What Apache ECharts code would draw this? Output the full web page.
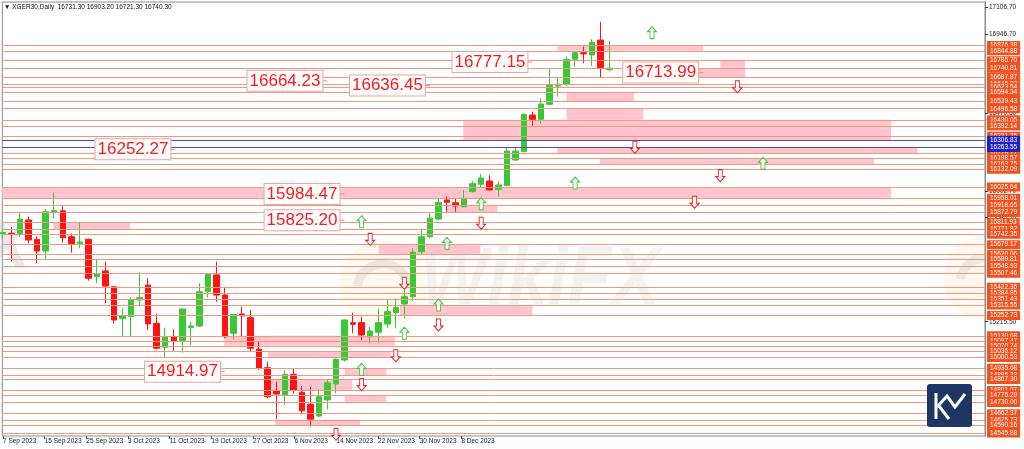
<!DOCTYPE html>
<html><head><meta charset="utf-8">
<script src="https://cdn.jsdelivr.net/npm/echarts@6/dist/echarts.min.js"></script>
<style>html,body{margin:0;padding:0;background:#fff}#c{width:1024px;height:449px}</style>
</head><body><div id="c"></div>
<script>
// ---- data ----
const symbolName = 'XGER30,Daily';
const opens  = [15745,15748,15747,15827,15711,15641,15871,15883,15727,15687,15711,15486,15521,15426,15234,15246,15346,15436,15206,15062,15125,15100,15180,15190,15396,15497,15376,15146,15262,15240,15051,14939,14801,14775,14899,14791,14719,14648,14745,14841,14985,15210,15210,15125,15152,15202,15270,15322,15366,15637,15727,15833,15948,15931,15907,15998,16042,16062,16012,16034,16188,16238,16459,16433,16523,16633,16645,16794,16834,16820,16910,16731.30];
const highs  = [15775,15787,15871,15847,15727,15892,15992,15912,15747,15817,15716,15591,15577,15430,15296,15362,15516,15477,15264,15180,15170,15296,15216,15447,15502,15577,15426,15262,15306,15286,15095,14975,14855,14925,14935,14829,14825,14809,14865,14995,15230,15270,15246,15185,15296,15350,15356,15406,15657,15767,15868,15958,15968,15958,16008,16062,16102,16096,16058,16258,16268,16469,16479,16559,16740,16680,16810,16840,16870,16914,17020,16903.20];
const lows   = [15715,15577,15727,15687,15567,15587,15838,15691,15631,15657,15462,15447,15326,15206,15130,15130,15316,15166,15050,14997,15041,15029,15075,15185,15362,15336,15116,15110,15125,15035,14925,14755,14629,14715,14785,14664,14584,14641,14688,14785,14975,15146,15106,15086,15086,15176,15176,15236,15342,15623,15717,15827,15868,15877,15904,15992,16022,16004,15967,16031,16184,16236,16389,16405,16519,16569,16633,16749,16770,16754,16686,16721.30];
const closes = [15752,15745,15832,15707,15641,15877,15883,15721,15683,15695,15477,15502,15430,15226,15250,15346,15360,15202,15056,15125,15100,15292,15190,15396,15501,15376,15125,15260,15250,15056,14935,14764,14781,14899,14805,14680,14629,14764,14849,14989,15226,15200,15136,15160,15210,15276,15300,15366,15633,15727,15838,15934,15934,15912,15958,16046,16080,16008,16038,16242,16242,16463,16433,16525,16639,16644,16794,16834,16826,16896,16743,16740.30];
const dateLabels = ['7 Sep 2023','15 Sep 2023','25 Sep 2023','3 Oct 2023','11 Oct 2023','19 Oct 2023','27 Oct 2023','6 Nov 2023','14 Nov 2023','22 Nov 2023','30 Nov 2023','8 Dec 2023'];
const priceAxisLabels = [17106.70,16946.70,16470.50,16002.70,15845.90,15215.50];
const levels = [16876.38,16844.88,16785.70,16740.81,16687.87,16645.02,16623.54,16594.34,16539.43,16496.58,16430.05,16392.14,16331.25,16229.77,16198.57,16163.75,16132.09,16025.64,15958.01,15918.65,15872.79,15811.93,15771.82,15742.35,15679.17,15620.06,15589.81,15548.93,15507.46,15422.35,15384.85,15351.43,15315.55,15252.73,15130.68,15097.47,15070.74,15036.12,15000.53,14935.68,14895.23,14867.30,14801.07,14775.29,14730.00,14662.37,14625.73,14590.16,14545.88];
const blueLevels = [16306.83,16263.55];
// zones: [fromBar, toBar, lowPrice, highPrice]
const zones = [
  [64.9,82.0,16844.88,16876.38],
  [84.0,86.9,16740.81,16785.70],
  [81.3,86.9,16687.87,16740.81],
  [66.0,73.9,16539.43,16594.34],
  [66.0,75.0,16430.05,16496.58],
  [53.9,104.0,16306.83,16430.05],
  [64.9,107.1,16229.77,16263.55],
  [69.9,102.0,16163.75,16198.57],
  [-0.08,104.0,15958.01,16025.64],
  [52.0,57.9,15872.79,15918.65],
  [5.9,14.9,15771.82,15811.93],
  [44.0,55.9,15620.06,15679.17],
  [46.5,62.0,15252.73,15315.55],
  [25.9,45.9,15070.74,15130.68],
  [31.0,45.4,15000.53,15036.12],
  [40.0,44.9,14895.23,14935.68],
  [31.3,40.9,14801.07,14867.30],
  [40.0,44.9,14730.00,14775.29],
  [31.9,41.8,14590.16,14625.73]
];
const upArrows = [[76,16954],[89,16168],[67,16050],[56,15925],[52,15687],[42,15817],[51,15316],[47,15146],[42,14929]];
const downArrows = [[86,16629],[74,16265],[84,16094],[81,15934],[56,15808],[43,15711],[47,15447],[51,15196],[46,15011],[42,14837],[39,14538]];
const priceNotes = [[37.7,16664.23],[49.7,16636.45],[61.7,16777.15],[81.7,16713.99],[19.9,16252.27],[39.7,15984.47],[39.7,15825.20],[25.7,14914.97]];

// ---- layout constants ----
const X_MIN = -0.08, X_MAX = 115.0;
const Y_MIN = 14528.1, Y_MAX = 17138.6;
const LABEL_STEP = 4.88;
const tickPos = dateLabels.map((d, k) => k * LABEL_STEP);
const FONT = 'Liberation Sans';

const candleData = opens.map((o, i) => [i, o, closes[i], lows[i], highs[i]]);
const last = opens.length - 1;
const header = '\u25BC ' + symbolName + '  ' + [opens[last], highs[last], lows[last], closes[last]].map(v => v.toFixed(2)).join(' ');

const upPath = 'path://M4.5,0 L9,5 L6.5,5 L6.5,12 L2.5,12 L2.5,5 L0,5 Z';
const downPath = 'path://M2.5,0 L6.5,0 L6.5,7 L9,7 L4.5,12 L0,7 L2.5,7 Z';

const chart = echarts.init(document.getElementById('c'), null, {renderer: 'canvas'});
chart.setOption({
  animation: false,
  backgroundColor: '#fff',
  grid: {left: 2, right: 39, top: 2, bottom: 13, show: true, borderColor: '#8a8a8a', borderWidth: 1, backgroundColor: '#fff'},
  xAxis: {
    type: 'value', min: X_MIN, max: X_MAX,
    axisLine: {show: false, onZero: false}, splitLine: {show: false},
    axisTick: {show: true, customValues: tickPos, length: 3, lineStyle: {color: '#555'}},
    axisLabel: {customValues: tickPos, formatter: v => dateLabels[Math.round(v / LABEL_STEP)] || '', align: 'left',
      fontSize: 6.5, fontFamily: FONT, color: '#222', margin: 2}
  },
  yAxis: {
    type: 'value', position: 'right', min: Y_MIN, max: Y_MAX, scale: true,
    axisLine: {show: true, onZero: false, lineStyle: {color: '#8a8a8a'}}, splitLine: {show: false},
    axisTick: {show: true, customValues: priceAxisLabels, length: 3, lineStyle: {color: '#333'}},
    axisLabel: {customValues: priceAxisLabels, formatter: v => Number(v).toFixed(2), fontSize: 6.5, fontFamily: FONT, color: '#222', margin: 4}
  },
  graphic: [
    {type: 'text', left: 4, top: 4, z: 100, style: {text: header, fontSize: 6.5, fontFamily: FONT, fill: '#111'}},
    // watermark
    {type: 'circle', shape: {cx: 383, cy: 285, r: 44}, z: 0, style: {fill: 'rgba(255,200,130,0.13)'}},
    {type: 'arc', shape: {cx: 383, cy: 290, r: 26, startAngle: Math.PI * 1.05, endAngle: Math.PI * 1.95}, z: 0, style: {stroke: 'rgba(170,170,170,0.22)', lineWidth: 9, fill: null}},
    {type: 'text', x: 420, y: 240, z: 0, scaleX: 0.88, style: {text: 'WikiFX', fontSize: 82, fontWeight: 'bold', fontStyle: 'italic', fontFamily: FONT, fill: 'rgba(175,175,175,0.17)'}},
    {type: 'text', x: -16, y: 214, z: 0, style: {text: 'X', fontSize: 70, fontWeight: 'bold', fontStyle: 'italic', fontFamily: FONT, fill: 'rgba(175,175,175,0.28)'}},
    {type: 'sector', shape: {cx: 985, cy: 278, r0: 0, r: 42, startAngle: Math.PI * 0.5, endAngle: Math.PI * 1.5}, z: 0, style: {fill: 'rgba(255,200,130,0.14)'}},
    {type: 'arc', shape: {cx: 985, cy: 283, r: 25, startAngle: Math.PI * 1.05, endAngle: Math.PI * 1.5}, z: 0, style: {stroke: 'rgba(170,170,170,0.2)', lineWidth: 9, fill: null}},
    // logo bottom right
    {type: 'rect', shape: {x: 927, y: 384, width: 45, height: 43, r: 3}, z: 100, style: {fill: '#1e3664'}},
    {type: 'polyline', shape: {points: [[936, 393], [936, 419]]}, z: 101, style: {stroke: '#fff', lineWidth: 3, fill: null}},
    {type: 'polyline', shape: {points: [[937, 407], [947, 396], [955, 407], [965, 394]]}, z: 101, style: {stroke: '#fff', lineWidth: 3, fill: null, lineJoin: 'miter'}},
    {type: 'polyline', shape: {points: [[939, 406], [949, 419]]}, z: 101, style: {stroke: '#fff', lineWidth: 3, fill: null}}
  ],
  series: [
    {
      type: 'line', data: [], z: 1, silent: true,
      markLine: {
        silent: true, symbol: ['none', 'none'], animation: false,
        lineStyle: {color: '#ee9a80', width: 1, type: 'solid'},
        label: {show: true, position: 'end', distance: 2, formatter: p => Number(p.value).toFixed(2),
          backgroundColor: '#f4511e', color: '#fff', fontSize: 6.5, fontFamily: FONT, padding: [1, 3], lineHeight: 7},
        emphasis: {disabled: true},
        data: levels.map(v => ({yAxis: v}))
      }
    },
    {
      type: 'line', data: [], z: 2, silent: true,
      markArea: {silent: true, itemStyle: {color: '#ffc4ce', borderWidth: 0}, emphasis: {disabled: true},
        data: zones.map(zn => [{xAxis: zn[0], yAxis: zn[2]}, {xAxis: zn[1], yAxis: zn[3]}])}
    },
    {
      type: 'line', data: [], z: 3, silent: true,
      markLine: {
        silent: true, symbol: ['none', 'none'], animation: false,
        lineStyle: {color: '#4a4ad0', width: 1, type: 'solid'},
        label: {show: true, position: 'end', distance: 2, formatter: p => Number(p.value).toFixed(2),
          backgroundColor: '#1f1fc8', color: '#fff', fontSize: 6.5, fontFamily: FONT, padding: [1, 3], lineHeight: 7},
        emphasis: {disabled: true},
        data: blueLevels.map(v => ({yAxis: v}))
      }
    },
    {
      type: 'candlestick', z: 4, barWidth: 6,
      dimensions: ['idx', 'open', 'close', 'lowest', 'highest'],
      encode: {x: 'idx', y: ['open', 'close', 'lowest', 'highest']},
      data: candleData,
      itemStyle: {color: '#38c838', color0: '#ff1414', borderColor: '#38c838', borderColor0: '#ff1414', borderWidth: 1}
    },
    {
      type: 'scatter', z: 5, data: upArrows, symbol: upPath, symbolSize: [9, 12], silent: true,
      itemStyle: {color: '#fff', borderColor: '#3cc83c', borderWidth: 1, opacity: 1}
    },
    {
      type: 'scatter', z: 5, data: downArrows, symbol: downPath, symbolSize: [9, 12], silent: true,
      itemStyle: {color: '#fff', borderColor: '#ee2020', borderWidth: 1, opacity: 1}
    },
    {
      type: 'scatter', z: 6, data: priceNotes, symbol: 'rect', symbolSize: [5, 1], silent: true,
      itemStyle: {color: '#f08a8a', opacity: 1},
      label: {show: true, position: 'left', distance: 0, formatter: p => p.value[1].toFixed(2),
        fontSize: 17, fontFamily: FONT, color: '#ff1a1a', backgroundColor: '#fff',
        borderColor: '#f2a0a0', borderWidth: 1, padding: [1, 2, 0, 2], lineHeight: 19}
    }
  ]
});
</script></body></html>
